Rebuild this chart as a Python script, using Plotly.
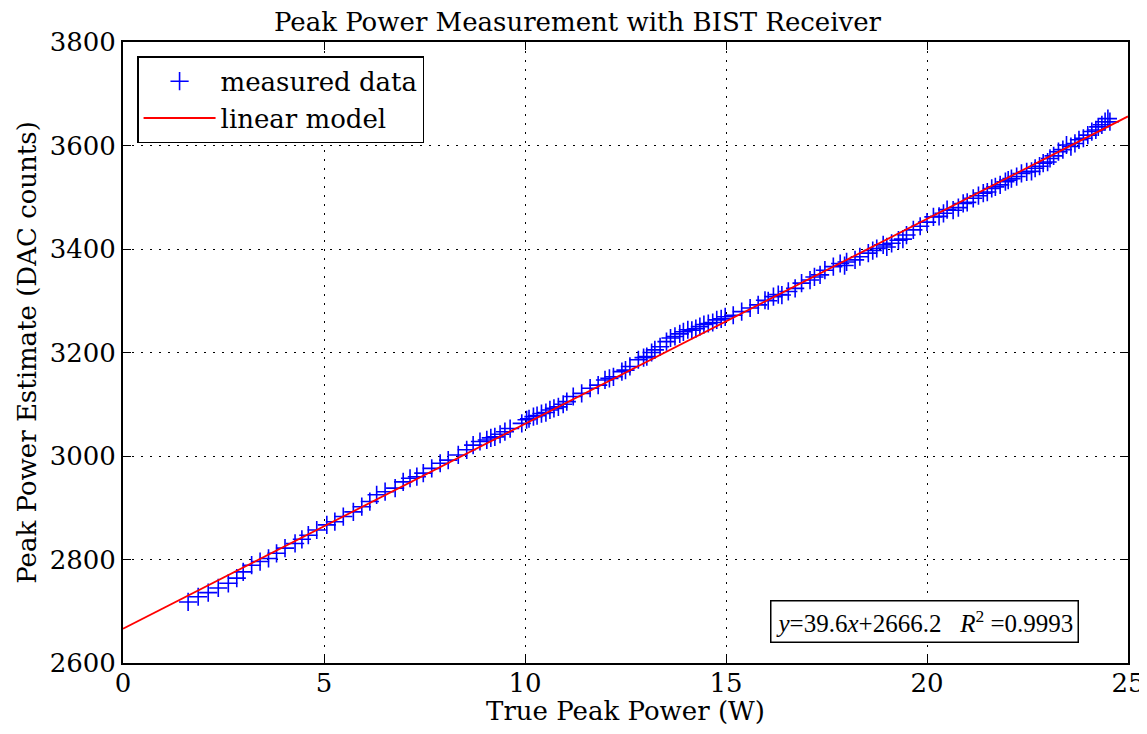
import plotly.graph_objects as go

x_measured = [1.62, 1.87, 2.12, 2.37, 2.62, 2.83, 2.99, 3.20, 3.41, 3.62, 3.82, 4.03, 4.28, 4.45, 4.61, 4.82,
              5.07, 5.27, 5.48, 5.73, 5.94, 6.14, 6.31, 6.52, 6.77, 6.97, 7.14, 7.31, 7.47, 7.68, 7.89, 8.09,
              8.34, 8.55, 8.71, 8.88, 9.05, 9.15, 9.25, 9.38, 9.50, 9.63, 9.92, 10.04, 10.10, 10.21, 10.30,
              10.41, 10.52, 10.62, 10.72, 10.83, 10.95, 11.04, 11.20, 11.41, 11.62, 11.82, 11.99, 12.10, 12.20,
              12.41, 12.50, 12.61, 12.82, 12.95, 13.03, 13.15, 13.23, 13.36, 13.52, 13.62, 13.73, 13.85, 13.94,
              14.05, 14.15, 14.25, 14.35, 14.45, 14.56, 14.67, 14.77, 14.88, 14.98, 15.18, 15.39, 15.60, 15.80,
              15.97, 16.05, 16.18, 16.30, 16.39, 16.55, 16.72, 16.88, 17.09, 17.20, 17.34, 17.46, 17.67, 17.84,
              17.95, 18.00, 18.21, 18.33, 18.54, 18.65, 18.75, 18.91, 19.00, 19.12, 19.29, 19.40, 19.49, 19.66,
              19.83, 20.00, 20.16, 20.30, 20.41, 20.50, 20.65, 20.78, 20.90, 21.00, 21.15, 21.28, 21.40, 21.50,
              21.61, 21.70, 21.82, 21.95, 22.02, 22.10, 22.23, 22.35, 22.48, 22.60, 22.69, 22.80, 22.89, 23.00,
              23.06, 23.15, 23.27, 23.38, 23.47, 23.58, 23.68, 23.78, 23.89, 24.00, 24.10, 24.20, 24.26, 24.35,
              24.43, 24.50, 24.55]
y_measured = [2718, 2728, 2736, 2745, 2754, 2764, 2776, 2789, 2796, 2802, 2812, 2822, 2831, 2839, 2847, 2857,
              2867, 2873, 2883, 2892, 2902, 2912, 2925, 2931, 2938, 2950, 2957, 2960, 2967, 2976, 2986, 2992,
              3002, 3012, 3021, 3028, 3031, 3035, 3037, 3042, 3047, 3053, 3063, 3070, 3072, 3076, 3078,
              3082, 3084, 3089, 3092, 3095, 3100, 3105, 3115, 3121, 3131, 3137, 3147, 3150, 3153,
              3163, 3166, 3173, 3186, 3190, 3192, 3200, 3205, 3211, 3221, 3228, 3231, 3236, 3240,
              3244, 3243, 3246, 3250, 3254, 3256, 3258, 3263, 3265, 3269, 3272, 3279, 3286, 3292,
              3301, 3300, 3308, 3312, 3311, 3318, 3324, 3334, 3340, 3346, 3350, 3359, 3366, 3372,
              3368, 3375, 3379, 3385, 3392, 3397, 3401, 3408, 3404, 3411, 3417, 3419, 3427, 3437,
              3444, 3452, 3462, 3463, 3469, 3476, 3475, 3480, 3488, 3490, 3498, 3503, 3508, 3510,
              3517, 3520, 3524, 3530, 3533, 3536, 3540, 3546, 3549, 3550, 3556, 3560, 3566, 3568,
              3575, 3580, 3588, 3592, 3601, 3598, 3604, 3611, 3614, 3620, 3627, 3630, 3636, 3640,
              3646, 3652, 3646]

slope = 39.6
intercept = 2666.2
r_squared = 0.9993
model_x = [0, 25]
model_y = [slope * v + intercept for v in model_x]

x_ticks = [0, 5, 10, 15, 20, 25]
y_ticks = [2600, 2800, 3000, 3200, 3400, 3600, 3800]

FONT = "DejaVu Serif"
FS = 26

fig = go.Figure()
fig.add_trace(go.Scatter(
    x=x_measured, y=y_measured, mode="markers", name="measured data",
    marker=dict(symbol="cross-thin", size=13, color="#0000ff",
                line=dict(color="#0000ff", width=1.6)),
))
fig.add_trace(go.Scatter(
    x=model_x, y=model_y, mode="lines", name="linear model",
    line=dict(color="#ff0000", width=1.8),
))

fig.add_annotation(
    x=19.93, y=2681, xref="x", yref="y",
    text=f"<i>y</i>={slope}<i>x</i>+{intercept}&nbsp;&nbsp;&nbsp;<i>R</i><sup>2</sup> ={r_squared}",
    showarrow=False, font=dict(family="Liberation Serif", size=25, color="black"),
    bordercolor="black", borderwidth=1.5, borderpad=4, bgcolor="white",
)

axis_common = dict(
    showline=True, linecolor="black", linewidth=2, mirror="ticks",
    ticks="inside", ticklen=8, tickwidth=1, tickcolor="black",
    showgrid=True, gridcolor="black", gridwidth=1, griddash="2px,7px",
    zeroline=False, tickfont=dict(family=FONT, size=FS, color="black"),
    automargin=False, ticklabeloverflow="allow",
)

fig.update_xaxes(range=[0, 25], tickvals=x_ticks, ticktext=[str(v) for v in x_ticks],
                 ticklabelstandoff=-4,
                 title=dict(text="True Peak Power (W)", font=dict(family=FONT, size=FS, color="black"), standoff=8),
                 **axis_common)
fig.update_yaxes(range=[2600, 3800], tickvals=y_ticks, ticktext=[str(v) for v in y_ticks],
                 title=dict(text="Peak Power Estimate (DAC counts)", font=dict(family=FONT, size=FS, color="black"), standoff=6),
                 **axis_common)

fig.update_layout(
    width=1139, height=718,
    margin=dict(l=115, r=19, t=34, b=63),
    paper_bgcolor="white", plot_bgcolor="white",
    title=dict(text="Peak Power Measurement with BIST Receiver", x=0.5, xanchor="center",
               y=0.98, yanchor="middle", font=dict(family=FONT, size=FS, color="black")),
    legend=dict(x=0.014, y=0.977, xanchor="left", yanchor="top",
                bordercolor="black", borderwidth=1.5, bgcolor="white",
                font=dict(family=FONT, size=FS, color="black"), itemwidth=72),
    showlegend=True,
)

fig.write_html("out.html")
